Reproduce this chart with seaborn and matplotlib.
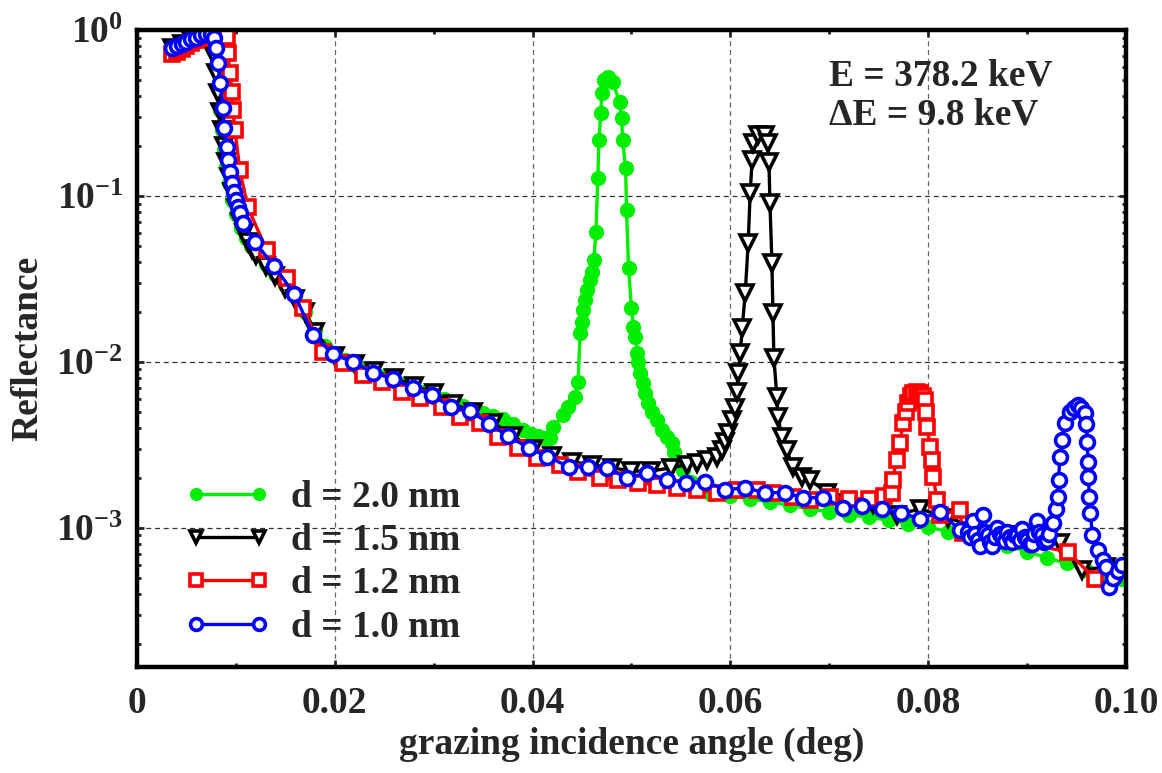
import numpy as np
import pandas as pd
import matplotlib
matplotlib.use("Agg")
import matplotlib.pyplot as plt
import matplotlib.ticker as mticker
import seaborn as sns

# ---------------- data ----------------
g_x = [0.0035, 0.004, 0.0045, 0.005, 0.0055, 0.006, 0.0065, 0.007, 0.0075, 0.0078,
       0.008, 0.0082, 0.0084, 0.0086, 0.0088, 0.009, 0.0093, 0.0096, 0.010, 0.0105,
       0.011, 0.0115, 0.012, 0.013, 0.014, 0.015, 0.016, 0.017, 0.018, 0.019,
       0.020, 0.021, 0.022, 0.023, 0.024, 0.025, 0.026, 0.027, 0.028, 0.029,
       0.030, 0.031, 0.032, 0.033, 0.034, 0.035, 0.036, 0.037, 0.038, 0.039,
       0.0398, 0.0405, 0.0412, 0.0418, 0.0421, 0.0431, 0.0436, 0.0443, 0.0446, 0.0448,
       0.0450, 0.0451, 0.0453, 0.0455, 0.0458, 0.0460, 0.0462, 0.0464, 0.0466, 0.0467,
       0.0469, 0.0470, 0.0472, 0.0476, 0.0481, 0.0488, 0.0490, 0.0491, 0.0494, 0.0495,
       0.0497, 0.0500, 0.0502, 0.0504, 0.0506, 0.0507, 0.0509, 0.0512, 0.0514, 0.0517,
       0.0521, 0.0526, 0.0531, 0.0536, 0.0541, 0.0543, 0.0552, 0.056, 0.057, 0.058,
       0.060, 0.062, 0.064, 0.066, 0.068, 0.070, 0.072, 0.074, 0.076, 0.078,
       0.080, 0.082, 0.084, 0.086, 0.088, 0.090, 0.092, 0.094, 0.096, 0.098, 0.0995]
g_y = [0.76, 0.78, 0.81, 0.84, 0.87, 0.89, 0.91, 0.92, 0.90, 0.80,
       0.60, 0.45, 0.33, 0.25, 0.19, 0.15, 0.12, 0.095, 0.078, 0.064,
       0.056, 0.050, 0.046, 0.039, 0.034, 0.029, 0.025, 0.020, 0.0155, 0.0125,
       0.0109, 0.0102, 0.0096, 0.0091, 0.0086, 0.0082, 0.0078, 0.0074, 0.0070, 0.0066,
       0.0063, 0.0060, 0.0057, 0.0054, 0.0051, 0.0049, 0.0047, 0.0045, 0.0042, 0.0039,
       0.0037, 0.0036, 0.0035, 0.0035, 0.00406, 0.0048, 0.00536, 0.00615, 0.00759, 0.01496,
       0.0174, 0.0206, 0.0236, 0.0272, 0.0312, 0.0348, 0.0411, 0.0607, 0.128, 0.217,
       0.316, 0.417, 0.50, 0.521, 0.486, 0.368, 0.295, 0.217, 0.1475, 0.0824,
       0.0368, 0.0212, 0.01625, 0.01415, 0.01133, 0.0100, 0.0086, 0.00747, 0.0065, 0.00566,
       0.0050, 0.00448, 0.00389, 0.00353, 0.00325, 0.00287, 0.00223, 0.0019, 0.00168, 0.0016,
       0.00155, 0.0015, 0.00143, 0.00137, 0.0013, 0.00125, 0.0012, 0.00116, 0.00111, 0.00106,
       0.00101, 0.00095, 0.0009, 0.00084, 0.00078, 0.00072, 0.00066, 0.00061, 0.00056, 0.00051, 0.00049]

k_x = [0.0035, 0.0045, 0.0055, 0.0065, 0.0072, 0.0076, 0.0078, 0.008, 0.0082, 0.0084,
       0.0086, 0.0088, 0.009, 0.0093, 0.0096, 0.010, 0.0104, 0.0108, 0.0112, 0.0116,
       0.012, 0.013, 0.014, 0.015, 0.016, 0.017, 0.018, 0.020, 0.022, 0.024,
       0.026, 0.028, 0.030, 0.032, 0.034, 0.036, 0.038, 0.040, 0.042, 0.044,
       0.046, 0.048, 0.050, 0.052, 0.054, 0.0556, 0.0566, 0.0576, 0.0586, 0.0592,
       0.0595, 0.0598, 0.0602, 0.0605, 0.0607, 0.0608, 0.0610, 0.0612, 0.0615, 0.0618,
       0.0620, 0.0622, 0.0623, 0.0628, 0.0635, 0.0638, 0.0639, 0.0640, 0.0642, 0.0643,
       0.0644, 0.0647, 0.0648, 0.0652, 0.0657, 0.0663, 0.0672, 0.0680, 0.0698, 0.0718,
       0.0744, 0.0768, 0.0792, 0.082, 0.085, 0.088, 0.0903, 0.0933, 0.0956, 0.098, 0.0995]
k_y = [0.78, 0.82, 0.87, 0.91, 0.92, 0.85, 0.70, 0.55, 0.42, 0.32,
       0.25, 0.20, 0.16, 0.13, 0.105, 0.085, 0.070, 0.060, 0.053, 0.048,
       0.044, 0.038, 0.033, 0.028, 0.024, 0.020, 0.0152, 0.0108, 0.0097, 0.0088,
       0.0080, 0.0072, 0.0065, 0.0056, 0.0050, 0.0043, 0.0036, 0.0030, 0.0027, 0.0025,
       0.0024, 0.0023, 0.0022, 0.0022, 0.0023, 0.0024, 0.00247, 0.00257, 0.00268, 0.00295,
       0.0033, 0.00374, 0.00448, 0.00528, 0.0066, 0.0086, 0.0113, 0.016, 0.026, 0.052,
       0.104, 0.165, 0.209, 0.233, 0.233, 0.209, 0.16, 0.0908, 0.0395, 0.0197,
       0.01057, 0.00615, 0.00467, 0.00353, 0.00295, 0.00233, 0.00203, 0.00195, 0.00163, 0.00142,
       0.0014, 0.0012, 0.0013, 0.00115, 0.0010, 0.0009, 0.00082, 0.00081, 0.00056, 0.00058, 0.00055]

r_x = [0.0035, 0.004, 0.0045, 0.005, 0.0055, 0.006, 0.0065, 0.007, 0.0075, 0.008,
       0.0085, 0.0088, 0.0091, 0.0092, 0.0094, 0.0096, 0.0097, 0.0099, 0.0104, 0.0112,
       0.0131, 0.0152, 0.0168, 0.0188, 0.0208, 0.0229, 0.0248, 0.0268, 0.0286, 0.0308,
       0.0327, 0.0347, 0.0365, 0.0385, 0.0404, 0.0428, 0.0446, 0.0468, 0.0486, 0.0507,
       0.0526, 0.0546, 0.0566, 0.0586, 0.0607, 0.0627, 0.0643, 0.0663, 0.0680, 0.0701,
       0.0720, 0.0740, 0.0755, 0.0763, 0.0764, 0.0768, 0.0771, 0.0775, 0.0778, 0.0780,
       0.0783, 0.0785, 0.0789, 0.0792, 0.0795, 0.0797, 0.0798, 0.0799, 0.0802, 0.0804,
       0.0805, 0.0809, 0.0812, 0.0832, 0.0835, 0.0941, 0.0969]
r_y = [0.72, 0.74, 0.77, 0.80, 0.84, 0.87, 0.90, 0.92, 0.94, 0.95,
       0.95, 0.93, 0.91, 0.727, 0.551, 0.423, 0.33, 0.25, 0.143, 0.0859,
       0.0473, 0.032, 0.021, 0.0115, 0.00986, 0.00835, 0.00758, 0.0066, 0.00607, 0.00536,
       0.00467, 0.0043, 0.00353, 0.00303, 0.00264, 0.0024, 0.00217, 0.0020, 0.00195, 0.00187,
       0.00182, 0.00174, 0.0017, 0.00163, 0.0017, 0.0017, 0.00163, 0.00154, 0.00147, 0.00154,
       0.0015, 0.0015, 0.00155, 0.00163, 0.00195, 0.00257, 0.00325, 0.0043, 0.0050, 0.00566,
       0.0062, 0.0065, 0.0066, 0.0065, 0.0062, 0.0059, 0.0050, 0.00406, 0.00308, 0.00257,
       0.00203, 0.00147, 0.0012, 0.00128, 0.00093, 0.00072, 0.00049]

b_x = [0.0035, 0.004, 0.0045, 0.005, 0.0055, 0.006, 0.0065, 0.007, 0.0075, 0.0078,
       0.0080, 0.0082, 0.0084, 0.0087, 0.0088, 0.0091, 0.0092, 0.0094, 0.0096, 0.0098,
       0.0100, 0.0102, 0.0104, 0.0107, 0.0119, 0.01385, 0.0159, 0.0178, 0.0198, 0.0218,
       0.0239, 0.0259, 0.0279, 0.0298, 0.0317, 0.0337, 0.0356, 0.0375, 0.0396, 0.0415,
       0.0437, 0.0456, 0.0475, 0.0495, 0.0516, 0.0536, 0.0555, 0.0574, 0.0595, 0.0615,
       0.0635, 0.0655, 0.0673, 0.0694, 0.0714, 0.0733, 0.0753, 0.0773, 0.0792, 0.0812,
       0.0832, 0.0840, 0.08425, 0.0845, 0.08475, 0.0850, 0.08525, 0.0855, 0.08575, 0.0860,
       0.08625, 0.0865, 0.08675, 0.0870, 0.08725, 0.0875, 0.08775, 0.0880, 0.08825, 0.0885,
       0.08875, 0.0890, 0.08925, 0.0895, 0.08975, 0.0900, 0.09025, 0.0905, 0.09075, 0.0910,
       0.09125, 0.0915, 0.09175, 0.0920, 0.09225, 0.0926, 0.0929,
       0.0931, 0.0932, 0.0933, 0.0935, 0.0938, 0.0943, 0.0947, 0.0951, 0.0955, 0.0959,
       0.0960, 0.0961, 0.09615, 0.0962, 0.0963, 0.0964, 0.0966, 0.0972, 0.0977, 0.0980,
       0.0983, 0.0987, 0.0992, 0.0996]
b_y = [0.78, 0.80, 0.82, 0.85, 0.88, 0.90, 0.93, 0.95, 0.95, 0.90,
       0.78, 0.63, 0.48, 0.34, 0.257, 0.197, 0.165, 0.14, 0.12, 0.105,
       0.094, 0.086, 0.079, 0.0687, 0.0528, 0.0379, 0.0257, 0.01455, 0.01117, 0.0100,
       0.0086, 0.0079, 0.00697, 0.00633, 0.00536, 0.00507, 0.00423, 0.00358, 0.00303, 0.00268,
       0.00233, 0.00233, 0.0023, 0.0020, 0.00214, 0.00195, 0.00187, 0.0019, 0.0017, 0.00174,
       0.00163, 0.00163, 0.00152, 0.00152, 0.00132, 0.00136, 0.0013, 0.00123, 0.00113, 0.00125,
       0.00097, 0.00095, 0.00088, 0.0011, 0.00092, 0.00085, 0.00078, 0.0012, 0.00095, 0.0009,
       0.00082, 0.00078, 0.00088, 0.0010, 0.00092, 0.00088, 0.00083, 0.00095, 0.00088, 0.00082,
       0.0009, 0.0009, 0.00085, 0.00098, 0.00088, 0.00085, 0.0008, 0.0008, 0.00092, 0.0011,
       0.00095, 0.0009, 0.00082, 0.00085, 0.00092, 0.00107, 0.0013,
       0.00154, 0.00195, 0.00268, 0.00339, 0.0043, 0.0050, 0.0053, 0.0055, 0.0053, 0.00493,
       0.0042, 0.0033, 0.0025, 0.00203, 0.00154, 0.00123, 0.00091, 0.00074, 0.00064, 0.00058,
       0.00044, 0.0005, 0.00055, 0.0006]

labels = ["d = 2.0 nm", "d = 1.5 nm", "d = 1.2 nm", "d = 1.0 nm"]
x_ticks = [0, 0.02, 0.04, 0.06, 0.08, 0.10]
x_ticklabels = ["0", "0.02", "0.04", "0.06", "0.08", "0.10"]

# ---------------- style ----------------
sns.set_style("ticks")
plt.rcParams["font.family"] = ["Liberation Serif", "DejaVu Serif"]
plt.rcParams["font.weight"] = "bold"
plt.rcParams["mathtext.fontset"] = "custom"
plt.rcParams["mathtext.rm"] = "Liberation Serif:bold"
plt.rcParams["mathtext.bf"] = "Liberation Serif:bold"
plt.rcParams["mathtext.it"] = "Liberation Serif:bold:italic"
plt.rcParams["axes.unicode_minus"] = False

FS = 27

fig = plt.figure(figsize=(11.62, 7.73), dpi=100)
ax = fig.add_axes([0.1179, 0.1371, 0.8511, 0.8241])

series = [
    (g_x, g_y, labels[0], dict(color="#00ee00", marker="o", markersize=10,
                               markerfacecolor="#00ee00", markeredgecolor="#00ee00",
                               markeredgewidth=1.0, linewidth=2.4)),
    (k_x, k_y, labels[1], dict(color="black", marker="v", markersize=11,
                               markerfacecolor="white", markeredgecolor="black",
                               markeredgewidth=2.6, linewidth=2.4)),
    (r_x, r_y, labels[2], dict(color="#ff0000", marker="s", markersize=10.5,
                               markerfacecolor="white", markeredgecolor="#ff0000",
                               markeredgewidth=2.6, linewidth=2.4)),
    (b_x, b_y, labels[3], dict(color="#0000ff", marker="o", markersize=10,
                               markerfacecolor="white", markeredgecolor="#0000ff",
                               markeredgewidth=2.6, linewidth=2.4)),
]
for xs, ys, lab, kw in series:
    df = pd.DataFrame({"x": xs, "y": ys})
    sns.lineplot(data=df, x="x", y="y", ax=ax, label=lab, estimator=None,
                 sort=False, **kw)

ax.set_yscale("log")
ax.set_xlim(0, 0.1)
ax.set_ylim(1.45e-4, 1.0)

ax.set_xticks(x_ticks)
ax.set_xticklabels(x_ticklabels)
ax.xaxis.set_minor_locator(mticker.MultipleLocator(0.01))
ax.yaxis.set_major_locator(mticker.LogLocator(base=10, numticks=10))
ax.yaxis.set_minor_locator(mticker.LogLocator(base=10, subs=np.arange(2, 10), numticks=20))
ax.yaxis.set_minor_formatter(mticker.NullFormatter())
ax.yaxis.set_major_formatter(mticker.LogFormatterSciNotation())

ax.tick_params(axis="both", which="major", direction="in", length=5, width=2.0,
               top=True, right=True, labelsize=FS, pad=14)
ax.tick_params(axis="both", which="minor", direction="in", length=3, width=2.0,
               top=True, right=True)
ax.tick_params(axis="y", which="major", pad=10)

for s in ax.spines.values():
    s.set_linewidth(3.2)
    s.set_color("black")

ax.grid(True, which="major", axis="y", color="0.2", linestyle=(0, (4, 3)), linewidth=0.9)
ax.grid(True, which="major", axis="x", color="0.4", linestyle=(0, (4, 3)), linewidth=0.9)
ax.set_axisbelow(True)

ax.set_xlabel("grazing incidence angle (deg)", fontsize=FS, fontweight="bold", labelpad=4)
ax.set_ylabel("Reflectance", fontsize=FS, fontweight="bold", labelpad=8)

ax.text(0.70, 0.955, "E = 378.2 keV\n\u0394E = 9.8 keV", transform=ax.transAxes,
        fontsize=FS, fontweight="bold", va="top", ha="left", linespacing=1.15)

leg = ax.legend(loc="lower left", bbox_to_anchor=(0.048, 0.035), frameon=False,
                numpoints=2, handlelength=2.3, handletextpad=0.55, markerscale=0.85,
                labelspacing=0.22, fontsize=FS, borderaxespad=0.0, borderpad=0.0)

fig.savefig("out.png", dpi=100)
